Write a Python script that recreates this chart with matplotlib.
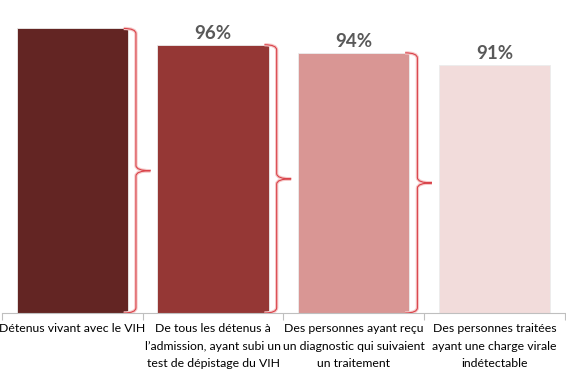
import matplotlib
import matplotlib.pyplot as plt
from matplotlib.path import Path
from matplotlib.patches import PathPatch

matplotlib.use('Agg')

# Cascade values (%), first bar is the reference population
categories = [
    "Détenus vivant avec le VIH",
    "De tous les détenus à\nl’admission, ayant subi un\ntest de dépistage du VIH",
    "Des personnes ayant reçu\nun diagnostic qui suivaient\nun traitement",
    "Des personnes traitées\nayant une charge virale\nindétectable",
]
values = [100, 96, 94, 91]
value_labels = ["", "96%", "94%", "91%"]

BAR_COLORS = ["#632523", "#953735", "#D99694", "#F2DCDB"]
BRACE_COLOR = "#d9434a"
BRACE_HALO = "#f6c9c9"
AXIS_COLOR = "#bfbfbf"
TEXT_COLOR = "#000000"
LABEL_COLOR = "#595959"
BAR_WIDTH = 0.79
Y_MIN, Y_MAX = 30, 107


def brace(ax, x0, xv, xt, ytop, ybot, ry):
    ymid = (ytop + ybot) / 2
    verts = [
        (x0, ytop), (xv, ytop), (xv, ytop - ry),
        (xv, ymid + ry),
        (xv, ymid), (xt, ymid),
        (xv, ymid), (xv, ymid - ry),
        (xv, ybot + ry),
        (xv, ybot), (x0, ybot),
    ]
    codes = [
        Path.MOVETO, Path.CURVE3, Path.CURVE3,
        Path.LINETO,
        Path.CURVE3, Path.CURVE3,
        Path.CURVE3, Path.CURVE3,
        Path.LINETO,
        Path.CURVE3, Path.CURVE3,
    ]
    path = Path(verts, codes)
    ax.add_patch(PathPatch(path, fill=False, edgecolor=BRACE_HALO, lw=2.4, zorder=3))
    ax.add_patch(PathPatch(path, fill=False, edgecolor=BRACE_COLOR, lw=0.8, zorder=4))


plt.rcParams['font.family'] = ['Lato', 'DejaVu Sans']

fig = plt.figure(figsize=(5.66, 3.81), dpi=100)
ax = fig.add_axes([0.0035, 0.1785, 0.9945, 0.8215])

x = list(range(len(values)))
ax.bar(x, [v - Y_MIN for v in values], bottom=Y_MIN, width=BAR_WIDTH,
       color=BAR_COLORS, edgecolor="#ececec", linewidth=0.6, zorder=2)

for i, (v, lab) in enumerate(zip(values, value_labels)):
    if lab:
        ax.annotate(lab, (i, v), xytext=(0, 2), textcoords="offset points",
                    ha="center", va="bottom", fontsize=13.5, fontweight="bold",
                    color=LABEL_COLOR)

# braces between consecutive bars
half = BAR_WIDTH / 2
for i in range(len(values) - 1):
    brace(ax, i + half - 0.03, i + half + 0.057, i + half + 0.16,
          values[i], Y_MIN, 1.3)

ax.set_xlim(-0.5, len(values) - 0.5)
ax.set_ylim(Y_MIN, Y_MAX)

for s in ["top", "right", "left"]:
    ax.spines[s].set_visible(False)
ax.spines["bottom"].set_color(AXIS_COLOR)
ax.set_yticks([])

ax.set_xticks([i - 0.5 for i in range(len(values) + 1)])
ax.set_xticklabels([])
ax.tick_params(axis="x", which="major", length=5, color=AXIS_COLOR)
ax.set_xticks(x, minor=True)
ax.set_xticklabels(categories, minor=True, fontsize=8.8, color=TEXT_COLOR,
                   linespacing=1.72)
ax.tick_params(axis="x", which="minor", length=0, pad=7.5)

fig.savefig("out.png", dpi=100, facecolor="white")
